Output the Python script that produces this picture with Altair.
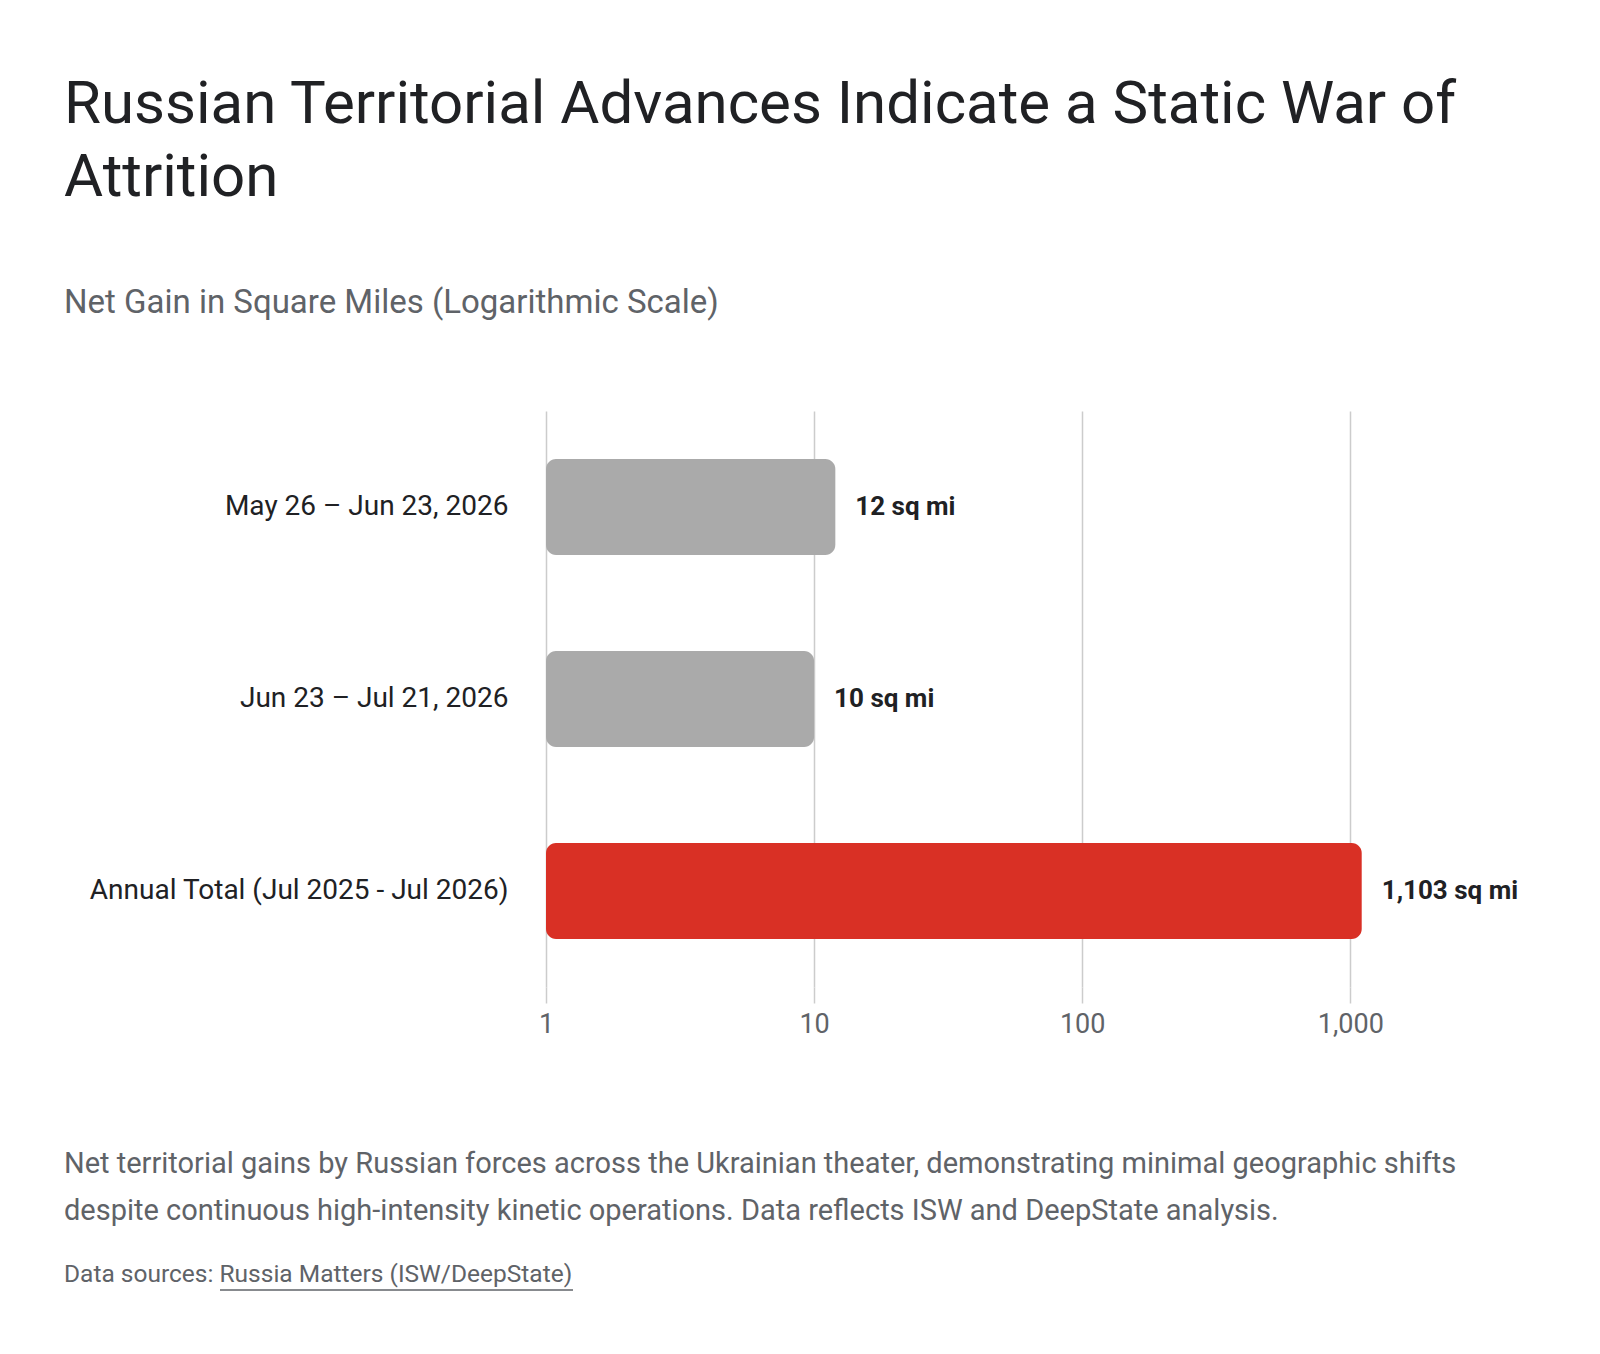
import altair as alt
import pandas as pd

# ---- data ----
periods = ["May 26 – Jun 23, 2026", "Jun 23 – Jul 21, 2026", "Annual Total (Jul 2025 - Jul 2026)"]
values = [12, 10, 1103]
value_labels = ["12 sq mi", "10 sq mi", "1,103 sq mi"]
bar_colors = ["#aaaaaa", "#aaaaaa", "#d93025"]
tick_values = [1, 10, 100, 1000]

title_lines = ["Russian Territorial Advances Indicate a Static War of", "Attrition"]
subtitle_text = "Net Gain in Square Miles (Logarithmic Scale)"
caption_lines = [
    "Net territorial gains by Russian forces across the Ukrainian theater, demonstrating minimal geographic shifts",
    "despite continuous high-intensity kinetic operations. Data reflects ISW and DeepState analysis.",
]
source_text = "Data sources: Russia Matters (ISW/DeepState)"

df = pd.DataFrame({"period": periods, "value": values, "label": value_labels})

FONT = "Roboto"
DARK = "#202124"
GREY = "#5f6368"
LEFT_EXT = 482

x_scale = alt.Scale(type="log", domain=[1, 2000])
y_enc = alt.Y(
    "period:N",
    sort=periods,
    scale=alt.Scale(paddingInner=0.5, paddingOuter=0.25),
    axis=alt.Axis(
        title=None, ticks=False, domain=False, labelFontSize=28, labelColor=DARK,
        labelFont=FONT, labelPadding=38, minExtent=LEFT_EXT, maxExtent=LEFT_EXT, labelLimit=470,
    ),
)

bars = alt.Chart(df).mark_bar(cornerRadius=10).encode(
    x=alt.X(
        "value:Q",
        scale=x_scale,
        axis=alt.Axis(
            title=None, values=tick_values, format=",", labelFontSize=27, labelColor=GREY,
            labelFont=FONT, grid=True, gridColor="#cccccc", gridWidth=1.5, tickColor="#cccccc",
            tickWidth=1.5, tickSize=16, domain=False, labelPadding=8, labelFlush=False,
        ),
    ),
    x2=alt.datum(1),
    y=y_enc,
    color=alt.Color("period:N", scale=alt.Scale(domain=periods, range=bar_colors), legend=None),
)

labels = alt.Chart(df).mark_text(
    align="left", baseline="middle", dx=20, fontSize=26, fontWeight="bold", font=FONT, color=DARK
).encode(
    x=alt.X("value:Q", scale=x_scale),
    y=y_enc,
    text="label:N",
)

main = alt.layer(bars, labels).properties(
    width=885,
    height=576,
    title=alt.TitleParams(
        text=title_lines,
        subtitle=subtitle_text,
        anchor="start",
        frame="group",
        dx=-LEFT_EXT,
        font=FONT,
        fontSize=60,
        fontWeight="normal",
        color=DARK,
        lineHeight=73,
        subtitleFont=FONT,
        subtitleFontSize=33,
        subtitleColor=GREY,
        subtitlePadding=78,
        offset=90,
    ),
)

# footer: caption + source, with an underline under the linked source name
footer_text = alt.Chart(pd.DataFrame({"t": [""]})).mark_text().encode(text="t:N")
footer_link = alt.Chart(pd.DataFrame({"t": [""]})).mark_rule(
    color=GREY, strokeWidth=1.3
).encode(
    x=alt.value(-326), x2=alt.value(27), y=alt.value(-2)
)

footer = alt.layer(footer_text, footer_link).properties(
    width=885,
    height=1,
    title=alt.TitleParams(
        text=caption_lines,
        subtitle=source_text,
        anchor="start",
        frame="group",
        dx=-LEFT_EXT,
        font=FONT,
        fontSize=29,
        fontWeight="normal",
        color=GREY,
        lineHeight=47,
        subtitleFont=FONT,
        subtitleFontSize=24.5,
        subtitleColor=GREY,
        subtitlePadding=37,
        offset=0,
    ),
)

chart = alt.vconcat(main, footer, spacing=113).properties(
    padding={"left": 64, "top": 75, "right": 30, "bottom": 60},
    background="white",
).configure_view(stroke=None)

chart.save("out.html", embed_options={"renderer": "svg", "actions": False})
